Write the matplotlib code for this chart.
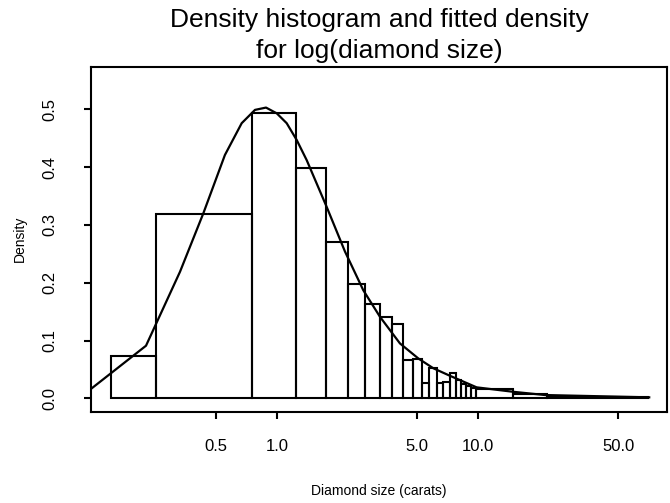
import numpy as np
import matplotlib.pyplot as plt
from matplotlib.ticker import NullLocator

plt.rcParams['font.family'] = ['Liberation Sans', 'DejaVu Sans']

# histogram breaks (carats) and bar densities
breaks = [0.15, 0.25, 0.75, 1.25, 1.75, 2.25, 2.75, 3.25, 3.75, 4.25, 4.75,
          5.25, 5.75, 6.25, 6.75, 7.25, 7.75, 8.25, 8.75, 9.25, 9.75,
          15, 22, 70]
density = [0.074, 0.319, 0.494, 0.399, 0.270, 0.198, 0.164, 0.140, 0.129,
           0.066, 0.068, 0.027, 0.052, 0.026, 0.029, 0.043, 0.032, 0.025,
           0.021, 0.017, 0.016, 0.0075, 0.003]

# fitted density curve
curve_x = [0.12, 0.2235, 0.330, 0.431, 0.552, 0.669, 0.779, 0.884, 1.0, 1.12,
           1.256, 1.409, 1.772, 2.184, 2.694, 3.262, 4.10, 5.06, 6.01, 7.27,
           9.87, 14.92, 21.6, 71.3]
curve_y = [0.0173, 0.091, 0.219, 0.320, 0.421, 0.476, 0.499, 0.503, 0.493,
           0.476, 0.447, 0.412, 0.331, 0.254, 0.187, 0.141, 0.095, 0.069,
           0.052, 0.039, 0.019, 0.0114, 0.0057, 0.0017]

xticks = [0.5, 1, 5, 10, 50]
xtick_labels = ["0.5", "1.0", "5.0", "10.0", "50.0"]
yticks = [0.0, 0.1, 0.2, 0.3, 0.4, 0.5]
ytick_labels = ["0.0", "0.1", "0.2", "0.3", "0.4", "0.5"]

fig = plt.figure(figsize=(6.7, 5.03), dpi=100)
ax = fig.add_axes([0.1358, 0.1819, 0.8597, 0.6849])

ax.bar(breaks[:-1], density, width=np.diff(breaks), align='edge',
       fill=False, edgecolor='black', linewidth=1.5)
ax.plot(curve_x, curve_y, color='black', linewidth=1.6, zorder=3)

ax.set_xscale('log')
ax.set_xlim(0.119, 87.4)
ax.set_ylim(-0.0228, 0.5732)

ax.set_xticks(xticks)
ax.set_xticklabels(xtick_labels)
ax.xaxis.set_minor_locator(NullLocator())
ax.set_yticks(yticks)
ax.set_yticklabels(ytick_labels, rotation=90, va='center')

ax.tick_params(axis='both', length=5, width=1.5, labelsize=12)
ax.tick_params(axis='x', pad=15)
ax.tick_params(axis='y', pad=19)
for s in ax.spines.values():
    s.set_linewidth(1.5)

ax.set_xlabel("Diamond size (carats)", fontsize=10, va='center')
ax.xaxis.set_label_coords(0.5, -0.2308)
ax.set_ylabel("Density", fontsize=10, va='center')
ax.yaxis.set_label_coords(-0.1233, 0.5)

fig.text(0.5657, 1 - 26.7 / 503, "Density histogram and fitted density",
         ha='center', va='baseline', fontsize=19)
fig.text(0.5657, 1 - 58.3 / 503, "for log(diamond size)",
         ha='center', va='baseline', fontsize=19)

fig.savefig("out.png", dpi=100)
